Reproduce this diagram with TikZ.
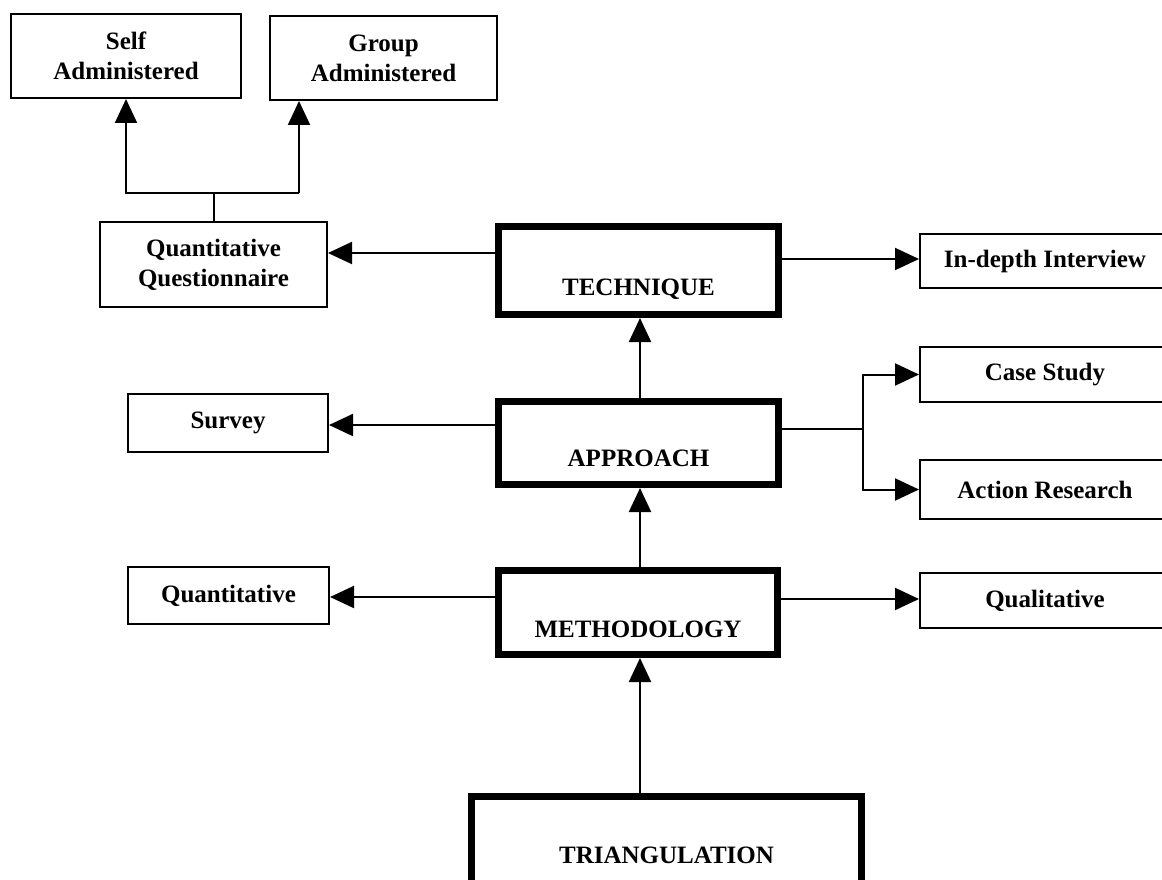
\documentclass[tikz,border=0pt]{standalone}
\usepackage{fontspec}
\setmainfont{Liberation Serif}
\usetikzlibrary{arrows.meta}
\begin{document}
\begin{tikzpicture}[x=1pt,y=-1pt,
  box/.style={draw, line width=2pt, inner sep=0pt, align=center,
              font=\fontsize{25}{30}\selectfont\bfseries},
  mainbox/.style={box, line width=7pt, text depth=0pt},
  link/.style={line width=2pt},
  arr/.style={link, -{Triangle[length=24pt,width=22pt]}}
]
\useasboundingbox (0,0) rectangle (1162,880);
\clip (0,0) rectangle (1162,880);

% questionnaire modes
\node[box, minimum width=230pt, minimum height=84pt] (self)  at (126,56)   {Self\\Administered};
\node[box, minimum width=227pt, minimum height=84pt] (group) at (383.5,58) {Group\\Administered};
\node[box, minimum width=227pt, minimum height=85pt] (qq)    at (213.5,264.5) {Quantitative\\Questionnaire};

% left column
\node[box, minimum width=200pt, minimum height=58pt] (survey) at (228,423)   {Survey};
\node[box, minimum width=201pt, minimum height=57pt] (quant)  at (228.5,595.5) {Quantitative};

% central spine
\node[mainbox, minimum width=280pt, minimum height=88pt, text height=50pt] (technique)   at (638.5,270.5) {TECHNIQUE};
\node[mainbox, minimum width=280pt, minimum height=83pt, text height=46pt] (approach)    at (638.5,443)   {APPROACH};
\node[mainbox, minimum width=279pt, minimum height=84pt, text height=49pt] (methodology) at (638,612.5)   {METHODOLOGY};
\node[mainbox, minimum width=390pt, minimum height=110pt, text height=23pt] (triangulation) at (666.5,851.5) {TRIANGULATION};

% right column
\node[box, minimum width=250pt, minimum height=54pt] (indepth)   at (1045,261)   {In-depth Interview};
\node[box, minimum width=250pt, minimum height=55pt] (casestudy) at (1045,374.5) {Case Study};
\node[box, minimum width=250pt, minimum height=59pt] (actionres) at (1045,489.5) {Action Research};
\node[box, minimum width=250pt, minimum height=55pt] (qualit)    at (1045,600.5) {Qualitative};

% connector levels
\coordinate (spine) at (640,0);
\coordinate (yTQ)   at (0,253);
\coordinate (yTI)   at (0,259);
\coordinate (yAS)   at (0,425);
\coordinate (split) at (863,429);
\coordinate (yMQ)   at (0,597);
\coordinate (yML)   at (0,599);
\coordinate (fork)  at (213.5,193);
\coordinate (gleg)  at (299,193);

% upward spine
\draw[arr] (triangulation.north -| spine) -- (methodology.south -| spine);
\draw[arr] (methodology.north -| spine)   -- (approach.south -| spine);
\draw[arr] (approach.north -| spine)      -- (technique.south -| spine);

% technique branches
\draw[arr] (technique.west |- yTQ) -- (qq.east |- yTQ);
\draw[arr] (technique.east |- yTI) -- (indepth.west |- yTI);
\draw[link] (qq.north) -- (fork);
\draw[arr] (gleg) -| (self.south);
\draw[arr] (gleg) -- (gleg |- group.south);

% approach branches
\draw[arr] (approach.west |- yAS) -- (survey.east |- yAS);
\draw[link] (approach.east |- split) -- (split);
\draw[arr] (split) |- (casestudy.west);
\draw[arr] (split) |- (actionres.west);

% methodology branches
\draw[arr] (methodology.west |- yMQ) -- (quant.east |- yMQ);
\draw[arr] (methodology.east |- yML) -- (qualit.west |- yML);
\end{tikzpicture}
\end{document}
